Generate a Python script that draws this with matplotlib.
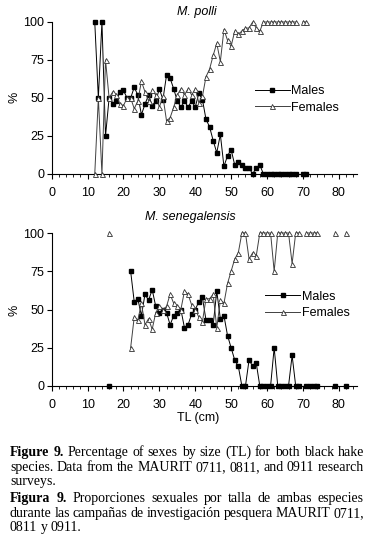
import numpy as np
import matplotlib
matplotlib.use("Agg")
import matplotlib.pyplot as plt
from matplotlib.ticker import MultipleLocator

nan = np.nan

# M. polli, TL 12..71 cm (69 missing)
polli_tl = list(range(12, 72))
polli_males = [100, 50, 100, 25, 50, 46, 48, 54, 55, 50,
               50, 57, 52, 39, 46, 52, 45, 48, 56, 49,
               65, 63, 56, 48, 44, 48, 44, 48, 44, 53,
               49, 36, 31, 22, 14, 26, 5, 12, 16, 6,
               8, 6, 4, 4, 0, 4, 6, 0, 0, 0,
               0, 0, 0, 0, 0, 0, 0, nan, 0, 0]
polli_females = [0, 50, 0, 75, 50, 54, 52, 46, 45, 50,
                 50, 43, 48, 61, 54, 48, 55, 52, 44, 51,
                 35, 37, 44, 52, 56, 52, 56, 52, 56, 47,
                 51, 64, 69, 78, 86, 74, 95, 88, 84, 94,
                 92, 94, 96, 96, 100, 96, 94, 100, 100, 100,
                 100, 100, 100, 100, 100, 100, 100, nan, 100, 100]

# M. senegalensis, TL 16..82 cm
sene_tl = list(range(16, 83))
sene_males = [0, nan, nan, nan, nan, nan, 75, 55, 57, 46,
              60, 56, 63, 52, 48, 50, 48, 40, 46, 48,
              50, 38, 40, 47, 50, 55, 58, 43, 43, 40,
              62, 44, 46, 33, 25, 17, 13, 0, 0, 17,
              13, 15, 0, 0, 0, 0, 25, 0, 0, 0,
              0, 20, 0, 0, nan, 0, 0, 0, 0, nan,
              nan, nan, nan, 0, nan, nan, 0]
sene_females = [100, nan, nan, nan, nan, nan, 25, 45, 43, 54,
                40, 44, 37, 48, 52, 50, 52, 60, 54, 52,
                50, 62, 60, 53, 50, 45, 42, 57, 57, 60,
                38, 56, 54, 67, 75, 83, 87, 100, 100, 83,
                87, 85, 100, 100, 100, 100, 75, 100, 100, 100,
                100, 80, 100, 100, nan, 100, 100, 100, 100, nan,
                nan, nan, nan, 100, nan, nan, 100]

caption_lines = [
    ("Figure 9. Percentage of sexes by size (TL) for both black hake", True),
    ("species. Data from the MAURIT 0711, 0811, and 0911 research", True),
    ("surveys.", False),
    ("Figura 9. Proporciones sexuales por talla de ambas especies", True),
    ("durante las campañas de investigación pesquera MAURIT 0711,", True),
    ("0811 y 0911.", False),
]

plt.rcParams["font.family"] = ["Liberation Sans", "DejaVu Sans"]
FS = 9

W, H = 370, 550
fig = plt.figure(figsize=(W / 100, H / 100), dpi=100)


def px_axes(left, top, right, bottom):
    return fig.add_axes([left / W, 1 - bottom / H, (right - left) / W, (bottom - top) / H])


def draw_panel(ax, tl, males, females, leg_anchor):
    ax.plot(tl, males, color="black", lw=0.7, marker="s", ms=3.3,
            mfc="black", mec="black", label="Males", clip_on=False, zorder=3)
    ax.plot(tl, females, color="#404040", lw=0.7, marker="^", ms=3.6,
            mfc="white", mec="#303030", mew=0.6, label="Females", clip_on=False, zorder=4)
    ax.set_xlim(0, 85)
    ax.set_ylim(0, 100)
    ax.set_xticks(range(0, 90, 10))
    ax.set_yticks([0, 25, 50, 75, 100])
    ax.xaxis.set_minor_locator(MultipleLocator(2))
    for s in ("top", "right"):
        ax.spines[s].set_visible(False)
    for s in ("left", "bottom"):
        ax.spines[s].set_linewidth(0.8)
    ax.tick_params(which="major", direction="out", length=3.5, width=0.8,
                   labelsize=FS, pad=2)
    ax.tick_params(axis="x", which="major", pad=6)
    ax.tick_params(which="minor", direction="out", length=2, width=0.6)
    ax.set_facecolor("none")
    ax.legend(loc="center left", bbox_to_anchor=leg_anchor, frameon=False,
              fontsize=FS, handlelength=2.8, handletextpad=0.15,
              labelspacing=0.35, borderpad=0, borderaxespad=0)


ax1 = px_axes(51.7, 22, 356.7, 174)
draw_panel(ax1, polli_tl, polli_males, polli_females, (0.665, 0.49))
ax2 = px_axes(51.7, 233, 356.7, 386)
draw_panel(ax2, sene_tl, sene_males, sene_females, (0.70, 0.53))

fig.text(197 / W, 1 - 12 / H, "M. polli", style="italic", fontsize=FS,
         ha="center", va="center")
fig.text(190 / W, 1 - 217 / H, "M. senegalensis", style="italic", fontsize=FS,
         ha="center", va="center")
fig.text(15 / W, 1 - 97 / H, "%", rotation=90, fontsize=FS, ha="center", va="center")
fig.text(15 / W, 1 - 310 / H, "%", rotation=90, fontsize=FS, ha="center", va="center")
fig.text(198 / W, 1 - 418 / H, "TL (cm)", fontsize=FS, ha="center", va="center")

# caption, justified by hand
renderer = fig.canvas.get_renderer()
x0, x1 = 10, 364
baselines = [456, 471, 485, 502, 517, 531]
for (line, justify), yb in zip(caption_lines, baselines):
    words = line.split(" ")
    texts = []
    for i, w in enumerate(words):
        bold = i < 2 and words[0] in ("Figure", "Figura")
        texts.append(fig.text(0, 1 - yb / H, w, family="Liberation Serif",
                              fontsize=10, fontweight="bold" if bold else "normal",
                              va="baseline"))
    widths = [t.get_window_extent(renderer).width for t in texts]
    gap = (x1 - x0 - sum(widths)) / (len(words) - 1) if justify else 3.3
    x = x0
    for t, w in zip(texts, widths):
        t.set_x(x / W)
        x += w + gap

fig.savefig("out.png", dpi=100)
